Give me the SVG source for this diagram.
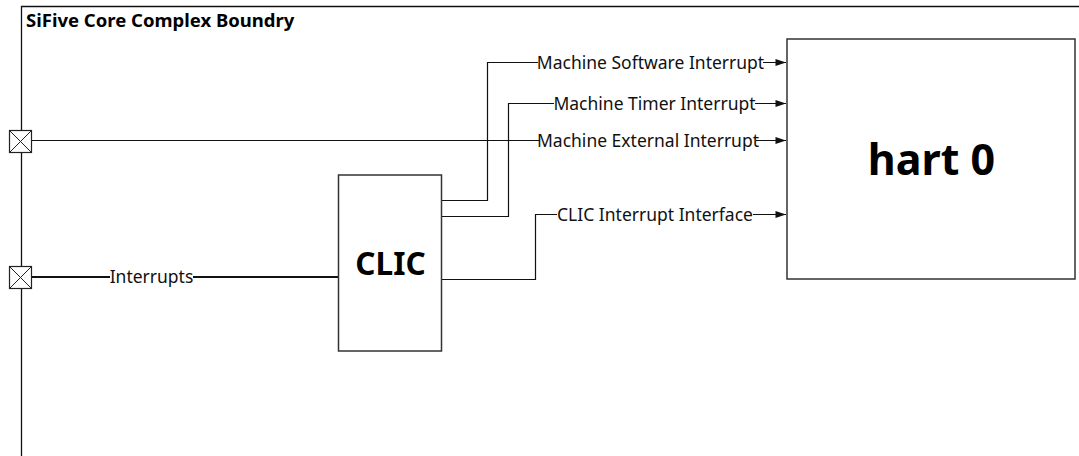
<svg xmlns="http://www.w3.org/2000/svg" width="1079" height="456" viewBox="0 0 1079 456">
<defs>
<style>
.box{fill:#fff;stroke:#333;stroke-width:1.5}
.wire{fill:none;stroke:#111;stroke-width:1.2}
.bus{fill:none;stroke:#111;stroke-width:2.2}
.bg{fill:#fff}
.lbl{font-family:"Noto Sans","Open Sans","Liberation Sans",sans-serif;font-size:17.5px;fill:#111;text-anchor:middle}
.bold{font-family:"Noto Sans","Open Sans","Liberation Sans",sans-serif;font-weight:bold;fill:#000;text-anchor:middle}
.port{fill:#fff;stroke:#222;stroke-width:1.2}
</style>
<marker id="arr" viewBox="0 0 12 8" refX="12" refY="4" markerWidth="12" markerHeight="7" markerUnits="userSpaceOnUse" orient="auto">
<path d="M0,0 L12,4 L0,8 z" fill="#111"/>
</marker>
</defs>
<rect width="1079" height="456" fill="#fff"/>
<g id="boundary">
<path d="M21.5,456 V6.5 H1079" fill="none" stroke="#111" stroke-width="1.3"/>
<text x="26" y="27" font-family="'Noto Sans','Open Sans','Liberation Sans',sans-serif" font-weight="bold" font-size="18.5" fill="#000">SiFive Core Complex Boundry</text>
</g>
<g id="connectors">
<path class="wire" d="M31,140.5 H786" marker-end="url(#arr)"/>
<path class="wire" d="M442,200.5 H487.5 V62.5 H786" marker-end="url(#arr)"/>
<path class="wire" d="M442,216.5 H508.5 V103.5 H786" marker-end="url(#arr)"/>
<path class="wire" d="M442,279.5 H535.5 V214.5 H786" marker-end="url(#arr)"/>
<path class="bus" d="M31,277 H339"/>
<rect class="bg" x="538" y="54" width="225" height="17"/>
<rect class="bg" x="554" y="95" width="201" height="17"/>
<rect class="bg" x="540" y="132" width="216" height="17"/>
<rect class="bg" x="557" y="206" width="196" height="17"/>
<rect class="bg" x="110" y="268" width="83" height="18"/>
<text class="lbl" x="650.5" y="68.5">Machine Software Interrupt</text>
<text class="lbl" x="654.5" y="109.5">Machine Timer Interrupt</text>
<text class="lbl" x="648" y="146.5">Machine External Interrupt</text>
<text class="lbl" x="655" y="220.5">CLIC Interrupt Interface</text>
<text class="lbl" x="151.5" y="283">Interrupts</text>
</g>
<g id="port-external">
<rect class="port" x="9.5" y="130.5" width="22" height="22"/>
<path d="M9.5,130.5 L31.5,152.5 M31.5,130.5 L9.5,152.5" stroke="#222" stroke-width="1"/>
</g>
<g id="port-interrupts">
<rect class="port" x="9.5" y="266.5" width="22" height="22"/>
<path d="M9.5,266.5 L31.5,288.5 M31.5,266.5 L9.5,288.5" stroke="#222" stroke-width="1"/>
</g>
<g id="clic">
<rect class="box" x="338.5" y="175" width="103" height="176"/>
<text class="bold" x="390.5" y="275" font-size="31.5">CLIC</text>
</g>
<g id="hart0">
<rect class="box" x="787" y="39" width="288" height="240"/>
<text class="bold" x="931.5" y="175" font-size="43">hart 0</text>
</g>
</svg>
